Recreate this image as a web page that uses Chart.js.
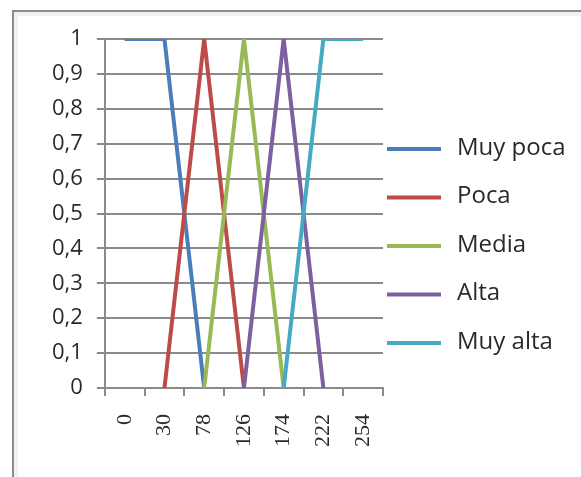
<!DOCTYPE html>
<html>
<head>
<meta charset="utf-8">
<script src="https://cdn.jsdelivr.net/npm/chart.js@4/dist/chart.umd.min.js"></script>
<style>
  html, body { margin: 0; padding: 0; background: #ffffff; }
  body { width: 581px; height: 477px; position: relative; overflow: hidden; }
  #frame {
    position: absolute; left: 12px; top: 10px; width: 700px; height: 600px;
    border-left: 2px solid #8c8c8c; border-top: 2px solid #8c8c8c;
    box-shadow: inset 4px 4px 0 #f1f1f1;
  }
  #chart { position: absolute; left: 0; top: 0; }
</style>
</head>
<body>
<div id="frame"></div>
<canvas id="chart" width="581" height="477"></canvas>
<script>
// Membership degrees of each brightness class over the grey-level categories
const categories = ['0', '30', '78', '126', '174', '222', '254'];
const seriesNames = ['Muy poca', 'Poca', 'Media', 'Alta', 'Muy alta'];
const muyPoca = [1, 1, 0, null, null, null, null];
const poca    = [null, 0, 1, 0, null, null, null];
const media   = [null, null, 0, 1, 0, null, null];
const alta    = [null, null, null, 0, 1, 0, null];
const muyAlta = [null, null, null, null, 0, 1, 1];
const seriesColors = ['#4a7ebb', '#be4b48', '#98b954', '#7d60a0', '#46aac5'];

const seriesValues = [muyPoca, poca, media, alta, muyAlta];

const datasets = seriesValues.map((values, i) => ({
  label: seriesNames[i],
  data: values,
  borderColor: seriesColors[i],
  backgroundColor: seriesColors[i],
  borderWidth: 4,
  pointRadius: 0,
  pointHoverRadius: 0,
  tension: 0,
  spanGaps: false,
  fill: false,
  // later series are painted over earlier ones
  order: seriesValues.length - 1 - i
}));

const gridColor = '#8a8a8a';
const textColor = '#2a2a2a';

// Legend column to the right of the plot: a short line swatch per series
const sideLegend = {
  id: 'sideLegend',
  afterDraw(chart) {
    const {ctx, chartArea} = chart;
    const x0 = chartArea.right + 4;
    const swatchW = 54;
    const firstY = 149;
    const stepY = 48.5;
    ctx.save();
    ctx.font = '24px "Open Sans", sans-serif';
    ctx.textBaseline = 'middle';
    ctx.textAlign = 'left';
    chart.data.datasets.forEach((ds, i) => {
      const y = firstY + i * stepY;
      ctx.fillStyle = ds.borderColor;
      ctx.fillRect(x0, y - 2, swatchW, 4);
      ctx.fillStyle = textColor;
      ctx.fillText(ds.label, x0 + swatchW + 16, y - 1);
    });
    ctx.restore();
  }
};

new Chart(document.getElementById('chart'), {
  type: 'line',
  data: { labels: categories, datasets: datasets },
  plugins: [sideLegend],
  options: {
    responsive: false,
    animation: false,
    events: [],
    layout: { padding: { top: 39, left: 38, right: 198, bottom: 12 } },
    scales: {
      x: {
        type: 'category',
        offset: true,
        border: { display: true, color: gridColor, width: 2 },
        grid: {
          offset: true,
          drawOnChartArea: false,
          drawTicks: true,
          tickLength: 8,
          color: gridColor,
          lineWidth: 2
        },
        ticks: {
          autoSkip: false,
          maxRotation: 90,
          minRotation: 90,
          padding: 18,
          color: textColor,
          font: { family: '"Liberation Serif", serif', size: 22 }
        }
      },
      y: {
        min: 0,
        max: 1,
        border: { display: true, color: gridColor, width: 2 },
        grid: {
          color: gridColor,
          lineWidth: 2,
          drawTicks: true,
          tickLength: 8
        },
        ticks: {
          stepSize: 0.1,
          padding: 14,
          color: textColor,
          font: { family: '"Open Sans", sans-serif', size: 22 },
          callback: (v) => String(Number(v.toFixed(1))).replace('.', ',')
        }
      }
    },
    plugins: {
      tooltip: { enabled: false },
      legend: { display: false }
    }
  }
});
</script>
</body>
</html>
